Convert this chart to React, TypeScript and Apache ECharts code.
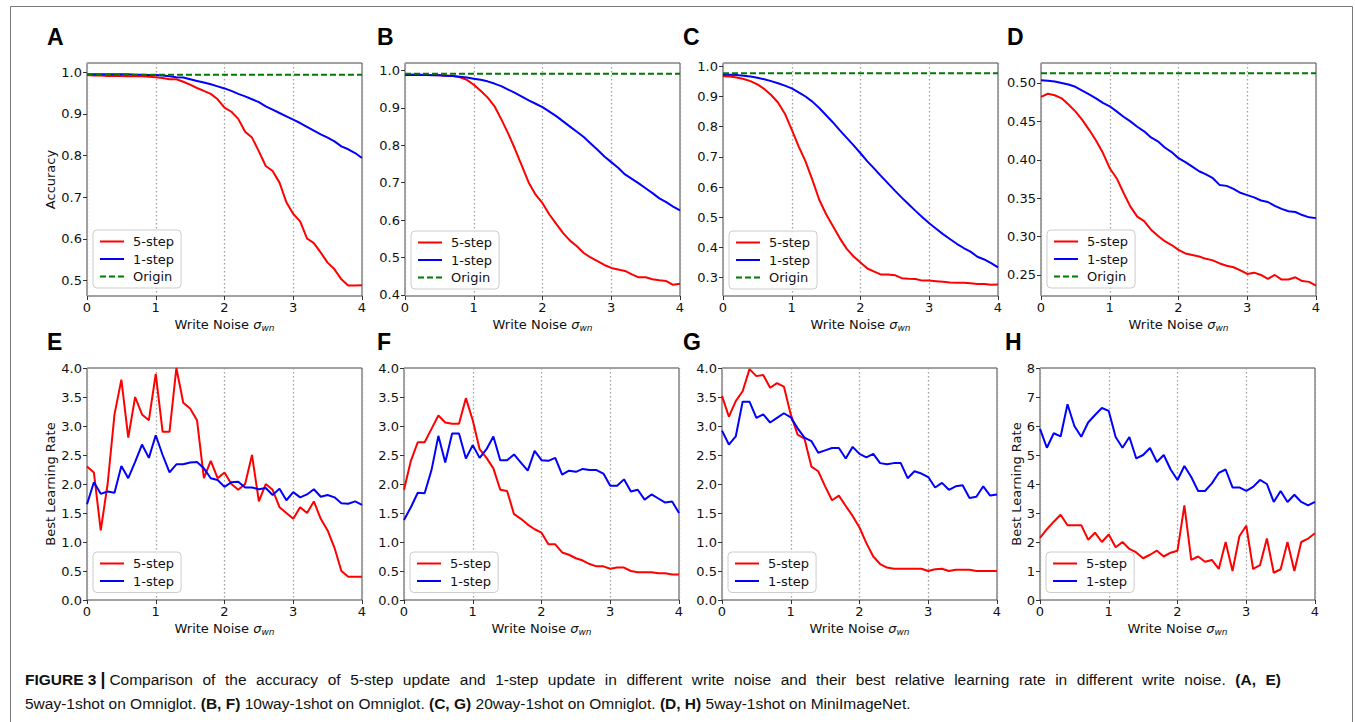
import React, { useEffect, useRef } from "react";
import * as echarts from "echarts";

// ---------------- data ----------------
const XS = [0, 0.1, 0.2, 0.3, 0.4, 0.5, 0.6, 0.7, 0.8, 0.9, 1.0, 1.1, 1.2, 1.3, 1.4, 1.5, 1.6, 1.7, 1.8, 1.9, 2.0,
  2.1, 2.2, 2.3, 2.4, 2.5, 2.6, 2.7, 2.8, 2.9, 3.0, 3.1, 3.2, 3.3, 3.4, 3.5, 3.6, 3.7, 3.8, 3.9, 4.0];

// Panel A (5way-1shot Omniglot accuracy)
const A_5STEP = [0.993, 0.992, 0.992, 0.991, 0.991, 0.991, 0.99, 0.99, 0.99, 0.989, 0.988, 0.986, 0.983, 0.983, 0.977, 0.97,
  0.962, 0.955, 0.948, 0.935, 0.915, 0.905, 0.888, 0.857, 0.843, 0.81, 0.775, 0.763, 0.735, 0.688, 0.66, 0.642, 0.601,
  0.59, 0.567, 0.543, 0.527, 0.503, 0.488, 0.488, 0.489];
const A_1STEP = [0.995, 0.995, 0.995, 0.995, 0.995, 0.995, 0.995, 0.994, 0.994, 0.993, 0.993, 0.992, 0.99, 0.988, 0.987,
  0.983, 0.979, 0.975, 0.971, 0.966, 0.961, 0.955, 0.948, 0.942, 0.935, 0.928, 0.918, 0.91, 0.902, 0.894, 0.886, 0.878,
  0.869, 0.86, 0.851, 0.843, 0.834, 0.822, 0.815, 0.806, 0.794];
const A_ORIGIN = 0.994;

// Panel B (10way-1shot Omniglot accuracy)
const B_5STEP = [0.989, 0.989, 0.989, 0.988, 0.988, 0.987, 0.986, 0.985, 0.982, 0.975, 0.962, 0.946, 0.928, 0.905, 0.87,
  0.832, 0.79, 0.745, 0.7, 0.668, 0.645, 0.615, 0.59, 0.565, 0.545, 0.53, 0.512, 0.5, 0.49, 0.48, 0.472, 0.468, 0.464,
  0.455, 0.447, 0.447, 0.442, 0.439, 0.437, 0.427, 0.43];
const B_1STEP = [0.988, 0.988, 0.988, 0.988, 0.987, 0.987, 0.986, 0.985, 0.983, 0.981, 0.978, 0.975, 0.971, 0.965, 0.958,
  0.949, 0.94, 0.93, 0.92, 0.911, 0.902, 0.89, 0.878, 0.864, 0.85, 0.836, 0.822, 0.805, 0.788, 0.77, 0.755, 0.74, 0.722,
  0.71, 0.698, 0.685, 0.672, 0.658, 0.648, 0.636, 0.626];
const B_ORIGIN = 0.991;

// Panel C (20way-1shot Omniglot accuracy)
const C_5STEP = [0.967, 0.966, 0.963, 0.958, 0.951, 0.94, 0.925, 0.905, 0.88, 0.843, 0.79, 0.735, 0.685, 0.624, 0.558,
  0.51, 0.47, 0.43, 0.395, 0.37, 0.35, 0.33, 0.32, 0.31, 0.31, 0.308, 0.298, 0.296, 0.295, 0.29, 0.29, 0.288, 0.286,
  0.284, 0.283, 0.283, 0.281, 0.279, 0.279, 0.276, 0.277];
const C_1STEP = [0.972, 0.972, 0.971, 0.969, 0.966, 0.962, 0.957, 0.951, 0.944, 0.936, 0.927, 0.914, 0.9, 0.883, 0.862,
  0.838, 0.814, 0.788, 0.763, 0.738, 0.712, 0.685, 0.661, 0.636, 0.612, 0.588, 0.565, 0.543, 0.521, 0.5, 0.48, 0.462,
  0.444, 0.428, 0.412, 0.398, 0.386, 0.369, 0.36, 0.348, 0.334];
const C_ORIGIN = 0.977;

// Panel D (5way-1shot MiniImageNet accuracy)
const D_5STEP = [0.482, 0.486, 0.484, 0.48, 0.472, 0.463, 0.452, 0.439, 0.425, 0.409, 0.389, 0.376, 0.357, 0.339, 0.326,
  0.32, 0.309, 0.301, 0.294, 0.289, 0.2826, 0.278, 0.276, 0.274, 0.271, 0.269, 0.265, 0.262, 0.26, 0.256, 0.2513, 0.253,
  0.25, 0.245, 0.25, 0.244, 0.244, 0.247, 0.242, 0.241, 0.236];
const D_1STEP = [0.5035, 0.503, 0.502, 0.5, 0.498, 0.495, 0.49, 0.485, 0.48, 0.474, 0.4696, 0.463, 0.456, 0.45, 0.443,
  0.437, 0.429, 0.424, 0.416, 0.41, 0.402, 0.397, 0.391, 0.385, 0.381, 0.376, 0.367, 0.366, 0.362, 0.357, 0.354, 0.351,
  0.347, 0.345, 0.34, 0.336, 0.333, 0.332, 0.328, 0.325, 0.324];
const D_ORIGIN = 0.5126;

// Panel E (best learning rate, 5way-1shot Omniglot)
const E_5STEP = [2.3, 2.2, 1.2, 2.0, 3.2, 3.8, 2.8, 3.5, 3.2, 3.1, 3.9, 2.9, 2.9, 4.0, 3.4, 3.3, 3.1, 2.1, 2.4, 2.1, 2.2,
  2.0, 1.9, 2.0, 2.5, 1.7, 2.0, 1.9, 1.6, 1.5, 1.4, 1.6, 1.5, 1.7, 1.4, 1.2, 0.9, 0.5, 0.4, 0.4, 0.4];
const E_1STEP = [1.65, 2.03, 1.83, 1.87, 1.85, 2.31, 2.1, 2.38, 2.68, 2.45, 2.84, 2.5, 2.2, 2.34, 2.34, 2.37, 2.38, 2.27,
  2.1, 2.07, 1.95, 2.03, 2.04, 1.94, 1.94, 1.91, 1.93, 1.81, 1.92, 1.72, 1.86, 1.77, 1.82, 1.91, 1.78, 1.81, 1.77, 1.67,
  1.66, 1.7, 1.64];

// Panel F (best learning rate, 10way-1shot Omniglot)
const F_5STEP = [1.9, 2.4, 2.72, 2.72, 2.95, 3.18, 3.06, 3.04, 3.04, 3.48, 3.1, 2.6, 2.45, 2.27, 1.9, 1.88, 1.48, 1.4, 1.3,
  1.22, 1.16, 0.96, 0.96, 0.82, 0.78, 0.72, 0.68, 0.62, 0.58, 0.58, 0.54, 0.56, 0.56, 0.5, 0.48, 0.48, 0.48, 0.46, 0.46,
  0.44, 0.44];
const F_1STEP = [1.38, 1.6, 1.85, 1.84, 2.24, 2.83, 2.37, 2.87, 2.87, 2.44, 2.67, 2.45, 2.6, 2.82, 2.41, 2.41, 2.51, 2.37,
  2.23, 2.57, 2.41, 2.4, 2.45, 2.16, 2.23, 2.21, 2.26, 2.24, 2.24, 2.18, 1.97, 1.97, 2.08, 1.87, 1.9, 1.73, 1.82, 1.75,
  1.68, 1.7, 1.5];

// Panel G (best learning rate, 20way-1shot Omniglot)
const G_5STEP = [3.52, 3.16, 3.43, 3.6, 3.98, 3.86, 3.88, 3.66, 3.74, 3.68, 3.2, 2.85, 2.78, 2.3, 2.22, 1.96, 1.72, 1.8,
  1.62, 1.45, 1.25, 0.98, 0.75, 0.62, 0.56, 0.54, 0.54, 0.54, 0.54, 0.54, 0.5, 0.53, 0.54, 0.5, 0.52, 0.52, 0.52, 0.5,
  0.5, 0.5, 0.5];
const G_1STEP = [2.92, 2.68, 2.82, 3.42, 3.42, 3.14, 3.2, 3.06, 3.14, 3.22, 3.15, 2.96, 2.8, 2.74, 2.54, 2.58, 2.62, 2.62,
  2.44, 2.64, 2.52, 2.46, 2.52, 2.36, 2.34, 2.36, 2.36, 2.1, 2.22, 2.18, 2.12, 1.94, 2.02, 1.9, 1.96, 1.98, 1.76, 1.78,
  1.96, 1.8, 1.82];

// Panel H (best learning rate, 5way-1shot MiniImageNet)
const H_5STEP = [2.14, 2.44, 2.7, 2.94, 2.58, 2.58, 2.58, 2.08, 2.32, 2.0, 2.26, 1.82, 2.0, 1.76, 1.64, 1.44, 1.56, 1.7,
  1.5, 1.63, 1.7, 3.26, 1.38, 1.5, 1.32, 1.38, 1.07, 2.0, 1.0, 2.2, 2.56, 1.07, 1.2, 2.12, 0.94, 1.06, 2.0, 1.0, 2.0,
  2.12, 2.3];
const H_1STEP = [5.9, 5.25, 5.75, 5.64, 6.75, 6.0, 5.63, 6.12, 6.38, 6.62, 6.52, 5.62, 5.25, 5.62, 4.88, 5.0, 5.24, 4.76,
  5.0, 4.5, 4.14, 4.62, 4.24, 3.76, 3.76, 4.02, 4.38, 4.5, 3.88, 3.88, 3.76, 3.9, 4.14, 4.0, 3.38, 3.76, 3.38, 3.63, 3.38,
  3.26, 3.38];

// axis ranges and tick labels
const X_TICKS = [0, 1, 2, 3, 4];
const A_YTICKS = [0.5, 0.6, 0.7, 0.8, 0.9, 1.0];
const B_YTICKS = [0.4, 0.5, 0.6, 0.7, 0.8, 0.9, 1.0];
const C_YTICKS = [0.3, 0.4, 0.5, 0.6, 0.7, 0.8, 0.9, 1.0];
const D_YTICKS = [0.25, 0.3, 0.35, 0.4, 0.45, 0.5];
const LR_YTICKS = [0, 0.5, 1.0, 1.5, 2.0, 2.5, 3.0, 3.5, 4.0];
const H_YTICKS = [0, 1, 2, 3, 4, 5, 6, 7, 8];

const LETTERS = ["A", "B", "C", "D", "E", "F", "G", "H"];
const SERIES_NAMES = ["5-step", "1-step", "Origin"];

const CAPTION_HEAD = "FIGURE 3";
const CAPTION_1 = "Comparison of the accuracy of 5-step update and 1-step update in different write noise and their best relative learning rate in different write noise.";
const CAPTION_1_TAIL = "(A, E)";
const CAPTION_2 = "{n|5way-1shot on Omniglot. }{b|(B, F)}{n| 10way-1shot on Omniglot. }{b|(C, G)}{n| 20way-1shot on Omniglot. }{b|(D, H)}{n| 5way-1shot on MiniImageNet.}";

// ---------------- layout ----------------
const GRID_LEFTS = [87, 405, 723, 1041, 87, 404, 722, 1040];
const GRID_W = 275;
const ROW_TOPS = [63, 368];
const ROW_H = [233, 232];
const LETTER_POS = [[47, 25], [377, 25], [683, 25], [1007, 25], [47, 330], [377, 330], [683, 330], [1005, 330]];
const LEGEND_POS = [[93, 230], [411, 231], [729, 231], [1047, 230], [93, 552], [410, 552], [728, 552], [1046, 552]];
const CAPTION_LEFT = 25;
const CAPTION_RIGHT = 1281;
const CAPTION_Y1 = 679;
const CAPTION_Y2 = 703;
const CAP_SIZE = 15.5;

const FONT = "DejaVu Sans";
const CAP_FONT = "Liberation Sans";
const RED = "#ff0000";
const BLUE = "#0000ff";
const GREEN = "#007a00";

export default function App() {
  const ref = useRef<HTMLDivElement>(null);

  useEffect(() => {
    if (!ref.current) return;
    const chart = echarts.init(ref.current, null, { renderer: "svg" });

    const panels = [
      { s5: A_5STEP, s1: A_1STEP, origin: A_ORIGIN, min: 0.463, max: 1.022, ticks: A_YTICKS, dec: 1, yName: "Accuracy", nameGap: 28 },
      { s5: B_5STEP, s1: B_1STEP, origin: B_ORIGIN, min: 0.397, max: 1.02, ticks: B_YTICKS, dec: 1, yName: "", nameGap: 0 },
      { s5: C_5STEP, s1: C_1STEP, origin: C_ORIGIN, min: 0.239, max: 1.011, ticks: C_YTICKS, dec: 1, yName: "", nameGap: 0 },
      { s5: D_5STEP, s1: D_1STEP, origin: D_ORIGIN, min: 0.2226, max: 0.526, ticks: D_YTICKS, dec: 2, yName: "", nameGap: 0 },
      { s5: E_5STEP, s1: E_1STEP, origin: null, min: 0, max: 4, ticks: LR_YTICKS, dec: 1, yName: "Best Learning Rate", nameGap: 30 },
      { s5: F_5STEP, s1: F_1STEP, origin: null, min: 0, max: 4, ticks: LR_YTICKS, dec: 1, yName: "", nameGap: 0 },
      { s5: G_5STEP, s1: G_1STEP, origin: null, min: 0, max: 4, ticks: LR_YTICKS, dec: 1, yName: "", nameGap: 0 },
      { s5: H_5STEP, s1: H_1STEP, origin: null, min: 0, max: 8, ticks: H_YTICKS, dec: 0, yName: "Best Learning Rate", nameGap: 16 },
    ];

    const grids: any[] = [];
    const xAxes: any[] = [];
    const yAxes: any[] = [];
    const series: any[] = [];
    const legends: any[] = [];
    const graphics: any[] = [];

    panels.forEach((p, i) => {
      const row = i < 4 ? 0 : 1;
      grids.push({
        left: GRID_LEFTS[i], top: ROW_TOPS[row], width: GRID_W, height: ROW_H[row],
        show: true, borderColor: "#444", borderWidth: 1, backgroundColor: "transparent", containLabel: false,
      });
      xAxes.push({
        type: "value", gridIndex: i, min: X_TICKS[0], max: X_TICKS[X_TICKS.length - 1], interval: 1,
        axisLine: { show: false },
        axisTick: { show: true, length: 4, lineStyle: { color: "#333" } },
        axisLabel: { fontFamily: FONT, fontSize: 13, color: "#111", margin: 5 },
        splitLine: { show: true, lineStyle: { type: [1.5, 2.5], color: "#a0a0a0", width: 1.3 } },
        name: "Write Noise {s|σ}{sub|wn}",
        nameLocation: "middle", nameGap: 20,
        nameTextStyle: {
          fontFamily: FONT, fontSize: 13, color: "#111",
          rich: {
            s: { fontFamily: FONT, fontSize: 13, fontStyle: "italic", color: "#111" },
            sub: { fontFamily: FONT, fontSize: 9, fontStyle: "italic", color: "#111", padding: [7, 0, 0, 0] },
          },
        },
      });
      yAxes.push({
        type: "value", gridIndex: i, min: p.min, max: p.max,
        axisLine: { show: false },
        axisTick: { show: true, length: 4, lineStyle: { color: "#333" }, customValues: p.ticks },
        axisLabel: {
          fontFamily: FONT, fontSize: 13, color: "#111", margin: 5, customValues: p.ticks,
          formatter: (v: number) => v.toFixed(p.dec),
        },
        splitLine: { show: false },
        name: p.yName, nameLocation: "middle", nameGap: p.nameGap, nameRotate: 90,
        nameTextStyle: { fontFamily: FONT, fontSize: 13, color: "#111" },
      });
      series.push({
        type: "line", name: SERIES_NAMES[0], xAxisIndex: i, yAxisIndex: i, symbol: "none",
        lineStyle: { color: RED, width: 2 }, itemStyle: { color: RED },
        data: XS.map((x, k) => [x, p.s5[k]]),
      });
      series.push({
        type: "line", name: SERIES_NAMES[1], xAxisIndex: i, yAxisIndex: i, symbol: "none",
        lineStyle: { color: BLUE, width: 2 }, itemStyle: { color: BLUE },
        data: XS.map((x, k) => [x, p.s1[k]]),
      });
      if (p.origin !== null) {
        series.push({
          type: "line", name: SERIES_NAMES[2], xAxisIndex: i, yAxisIndex: i, symbol: "none",
          lineStyle: { color: GREEN, width: 2, type: [6, 3] }, itemStyle: { color: GREEN },
          data: [[XS[0], p.origin], [XS[XS.length - 1], p.origin]],
        });
      }
      legends.push({
        left: LEGEND_POS[i][0], top: LEGEND_POS[i][1], orient: "vertical",
        data: p.origin !== null ? SERIES_NAMES : SERIES_NAMES.slice(0, 2),
        itemWidth: 24, itemHeight: 14, itemGap: 4.5,
        padding: [5, 7, 5, 6],
        borderColor: "#cccccc", borderWidth: 1, borderRadius: 4,
        backgroundColor: "rgba(255,255,255,0.85)",
        selectedMode: false,
        itemStyle: { color: "transparent", borderColor: "transparent", borderWidth: 0 },
        textStyle: { fontFamily: FONT, fontSize: 13, color: "#111", padding: [0, 0, 0, 4] },
      });
      graphics.push({
        type: "text", left: LETTER_POS[i][0], top: LETTER_POS[i][1],
        style: { text: LETTERS[i], font: "bold 23px 'Liberation Sans', Arial, sans-serif", fill: "#000" },
      });
    });

    // figure frame
    graphics.push({
      type: "rect", shape: { x: 10.5, y: 6.5, width: 1342, height: 740 },
      style: { fill: "none", stroke: "#777", lineWidth: 1 }, silent: true,
    });

    // caption line 1: head, bar, then justified words up to CAPTION_RIGHT
    const fonts: Record<string, string> = {
      b: `bold ${CAP_SIZE}px '${CAP_FONT}'`,
      bar: `bold ${CAP_SIZE + 2}px '${CAP_FONT}'`,
      n: `${CAP_SIZE}px '${CAP_FONT}'`,
    };
    const ctx = document.createElement("canvas").getContext("2d")!;
    const measure = (t: string, s: string) => {
      ctx.font = fonts[s];
      return ctx.measureText(t).width;
    };
    const headW = measure(CAPTION_HEAD, "b");
    const barW = measure("|", "bar");
    graphics.push({
      type: "text", x: CAPTION_LEFT, y: CAPTION_Y1,
      style: { text: CAPTION_HEAD, font: fonts.b, fill: "#111", verticalAlign: "middle" },
    });
    const barX = CAPTION_LEFT + headW + 4;
    graphics.push({
      type: "text", x: barX, y: CAPTION_Y1,
      style: { text: "|", font: fonts.bar, fill: "#111", verticalAlign: "middle" },
    });
    const startX = barX + barW + 4;
    const tokens: [string, string][] = [
      ...CAPTION_1.split(" ").map((w) => [w, "n"] as [string, string]),
      ...CAPTION_1_TAIL.split(" ").map((w) => [w, "b"] as [string, string]),
    ];
    const widths = tokens.map(([t, s]) => measure(t, s));
    const total = widths.reduce((a, b) => a + b, 0);
    const gap = (CAPTION_RIGHT - startX - total) / (tokens.length - 1);
    let cx = startX;
    tokens.forEach(([t, s], k) => {
      graphics.push({
        type: "text", x: cx, y: CAPTION_Y1,
        style: { text: t, font: fonts[s], fill: "#111", verticalAlign: "middle" },
      });
      cx += widths[k] + gap;
    });

    graphics.push({
      type: "text", x: CAPTION_LEFT, y: CAPTION_Y2,
      style: {
        text: CAPTION_2,
        verticalAlign: "middle",
        rich: {
          b: { fontFamily: CAP_FONT, fontWeight: "bold", fontSize: CAP_SIZE, fill: "#111" },
          n: { fontFamily: CAP_FONT, fontSize: CAP_SIZE, fill: "#111" },
        },
      },
    });

    chart.setOption({
      animation: false,
      backgroundColor: "#ffffff",
      grid: grids,
      xAxis: xAxes,
      yAxis: yAxes,
      series,
      legend: legends,
      graphic: graphics,
    });

    return () => chart.dispose();
  }, []);

  return (
    <div
      ref={ref}
      style={{ position: "fixed", left: 0, top: 0, width: 1355, height: 722, background: "#fff" }}
    />
  );
}
